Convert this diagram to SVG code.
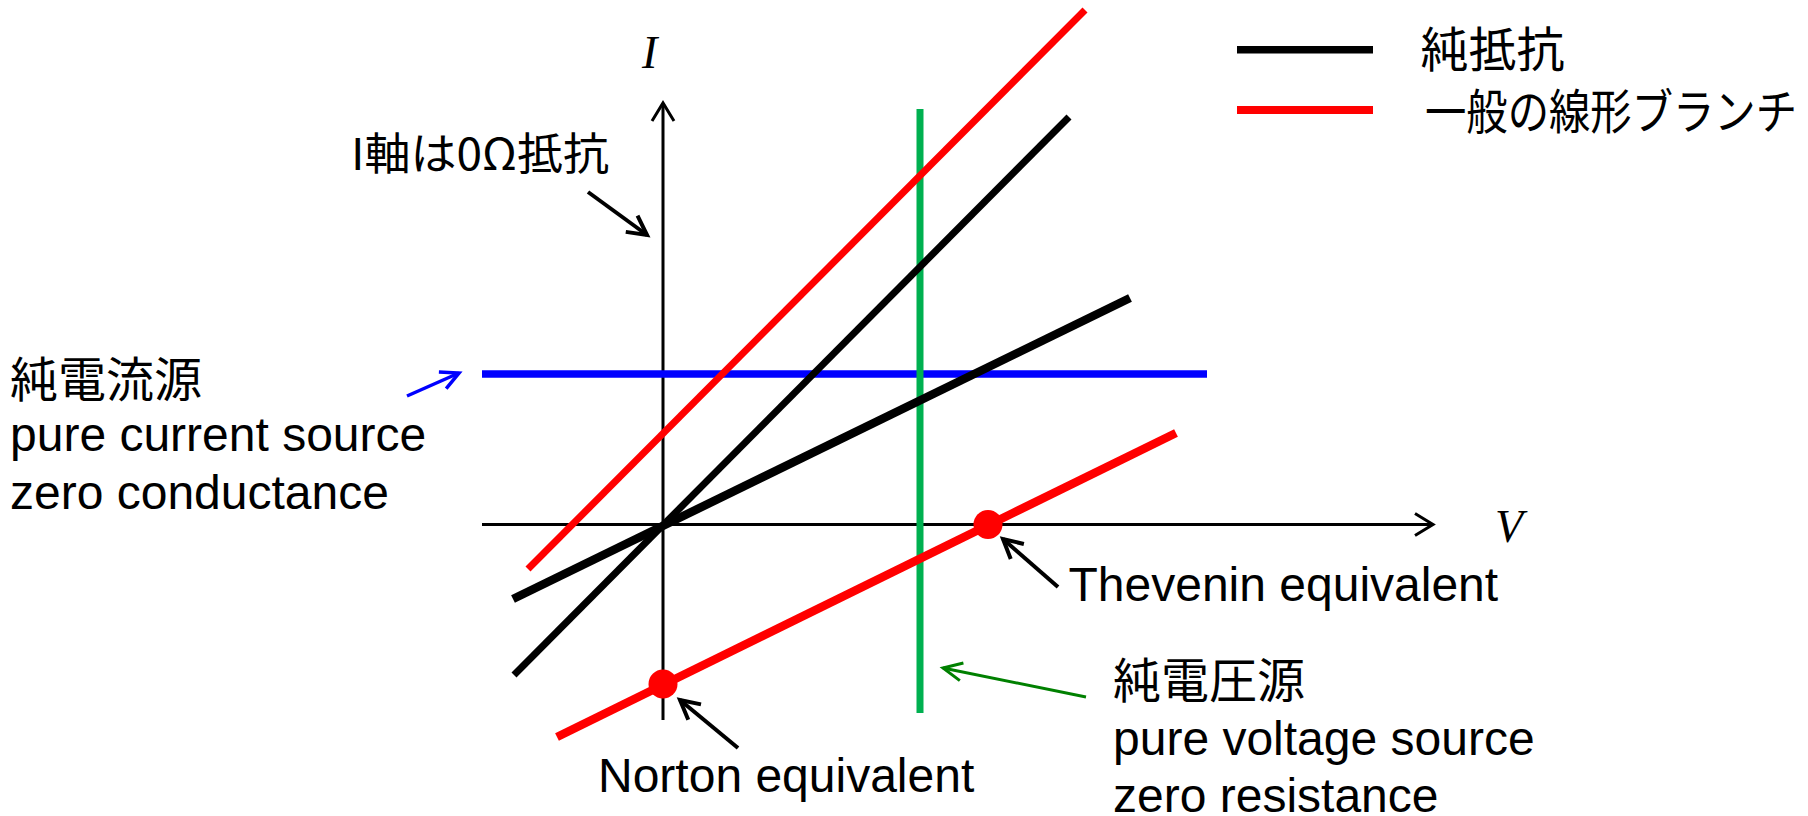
<svg xmlns="http://www.w3.org/2000/svg" width="1808" height="816" viewBox="0 0 1808 816">
<defs>
<style>
.lat{font-family:"Liberation Sans",Arial,sans-serif;font-size:48px;fill:#000}
.jp{font-family:"Noto Sans CJK JP","Noto Sans CJK SC",sans-serif;font-size:48px;fill:#000}
.var{font-family:"Liberation Serif","Times New Roman",serif;font-style:italic;font-size:46px;fill:#000}
.axis{stroke:#000;stroke-width:3;fill:none}
.steep{stroke-width:7;fill:none}
.shallow{stroke-width:8.5;fill:none}
.ann{stroke-width:4;fill:none}
</style>
<marker id="ah-axis" markerUnits="userSpaceOnUse" viewBox="-24 -14 28 28" markerWidth="28" markerHeight="28" refX="0" refY="0" orient="auto" overflow="visible">
<path d="M-18,-11 L0,0 L-18,11" fill="none" stroke="#000" stroke-width="3"/>
</marker>
<marker id="ah-k" markerUnits="userSpaceOnUse" viewBox="-24 -14 28 28" markerWidth="28" markerHeight="28" refX="0" refY="0" orient="auto" overflow="visible">
<path d="M-19,-10 L0,0 L-19,10" fill="none" stroke="#000" stroke-width="4"/>
</marker>
<marker id="ah-b" markerUnits="userSpaceOnUse" viewBox="-24 -14 28 28" markerWidth="28" markerHeight="28" refX="0" refY="0" orient="auto" overflow="visible">
<path d="M-18,-9 L0,0 L-18,9" fill="none" stroke="#0000FF" stroke-width="3.5"/>
</marker>
<marker id="ah-g" markerUnits="userSpaceOnUse" viewBox="-24 -14 28 28" markerWidth="28" markerHeight="28" refX="0" refY="0" orient="auto" overflow="visible">
<path d="M-19,-9 L0,0 L-19,9" fill="none" stroke="#008000" stroke-width="3"/>
</marker>
</defs>
<rect width="1808" height="816" fill="#fff"/>

<g id="axes">
<line class="axis" x1="663" y1="720" x2="663" y2="103" marker-end="url(#ah-axis)"/>
<line class="axis" x1="482" y1="524.5" x2="1433" y2="524.5" marker-end="url(#ah-axis)"/>
<text class="var" x="642" y="68">I</text>
<text class="var" x="1495" y="542">V</text>
</g>

<g id="pure-current-source-line">
<line x1="482" y1="374" x2="1207" y2="374" stroke="#0000FF" stroke-width="7.5"/>
</g>
<g id="pure-voltage-source-line">
<line x1="920" y1="109" x2="920" y2="713" stroke="#00B050" stroke-width="7"/>
</g>
<g id="resistor-steep">
<line class="steep" x1="514" y1="675" x2="1069" y2="117" stroke="#000"/>
</g>
<g id="resistor-shallow">
<line class="shallow" x1="513" y1="599" x2="1130" y2="298" stroke="#000"/>
</g>
<g id="branch-upper">
<line class="steep" x1="528" y1="569" x2="1085" y2="10" stroke="#FF0000"/>
</g>
<g id="branch-lower">
<line class="shallow" x1="557" y1="737" x2="1176" y2="433" stroke="#FF0000"/>
</g>
<g id="norton-point">
<circle cx="663" cy="684" r="14.5" fill="#FF0000"/>
</g>
<g id="thevenin-point">
<circle cx="988" cy="524.5" r="14.5" fill="#FF0000"/>
</g>

<g id="legend">
<line x1="1237" y1="49.7" x2="1373" y2="49.7" stroke="#000" stroke-width="7.5"/>
<line x1="1237" y1="110" x2="1373" y2="110" stroke="#FF0000" stroke-width="8"/>
<text class="jp" x="1420.5" y="67">純抵抗</text>
<text class="jp" x="1425" y="129" textLength="372" lengthAdjust="spacingAndGlyphs">一般の線形ブランチ</text>
</g>

<g id="label-i-axis">
<text class="jp" x="351" y="170" style="font-size:44px" textLength="258" lengthAdjust="spacingAndGlyphs">I軸は0Ω抵抗</text>
</g>
<g id="label-current-source">
<text class="jp" x="10" y="397">純電流源</text>
<text class="lat" x="10" y="451">pure current source</text>
<text class="lat" x="10" y="509">zero conductance</text>
</g>
<g id="label-voltage-source">
<text class="jp" x="1113" y="698">純電圧源</text>
<text class="lat" x="1113" y="755">pure voltage source</text>
<text class="lat" x="1113" y="812">zero resistance</text>
</g>
<g id="label-norton">
<text class="lat" x="598" y="792">Norton equivalent</text>
</g>
<g id="label-thevenin">
<text class="lat" x="1068.5" y="601">Thevenin equivalent</text>
</g>

<g id="connectors">
<line class="ann" x1="588" y1="192" x2="647" y2="235" stroke="#000" marker-end="url(#ah-k)"/>
<line class="ann" x1="738" y1="748" x2="680" y2="700" stroke="#000" marker-end="url(#ah-k)"/>
<line class="ann" x1="1058" y1="587" x2="1003" y2="539" stroke="#000" marker-end="url(#ah-k)"/>
<line x1="1086" y1="697" x2="943" y2="668" stroke="#008000" stroke-width="3" marker-end="url(#ah-g)"/>
<line x1="407" y1="396" x2="459" y2="373" stroke="#0000FF" stroke-width="3.5" marker-end="url(#ah-b)"/>
</g>
</svg>
